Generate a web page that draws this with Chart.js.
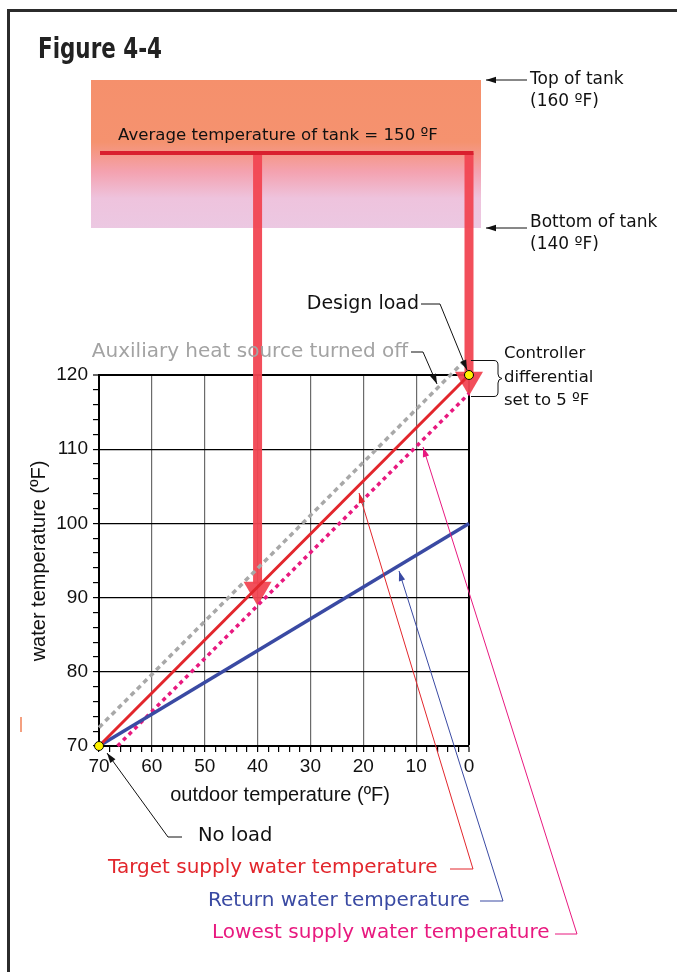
<!DOCTYPE html>
<html>
<head>
<meta charset="utf-8">
<script src="https://cdn.jsdelivr.net/npm/chart.js@4.4.1/dist/chart.umd.min.js"></script>
<style>
  html, body { margin: 0; padding: 0; background: #fff; }
  canvas { display: block; }
</style>
</head>
<body>
<canvas id="fig" width="677" height="972"></canvas>
<script>
// outdoor temperature (x) and water temperature (y) end points of each line
const targetX = [70, 0];
const targetY = [70, 120];
const returnX = [70, 0];
const returnY = [70, 100];
const lowestX = [66.5, 0];
const lowestY = [70, 117.5];
const auxX = [70, 1];
const auxY = [72.5, 121.8];
const loadX = [70, 0];
const loadY = [70, 120];

// thick arrows coming down from the tank
const tankArrowX = [40, 0];
const tankArrowTipY = [88.9, 117.2];

const xTickLabels = [70, 60, 50, 40, 30, 20, 10, 0];
const yTickLabels = [70, 80, 90, 100, 110, 120];

const pts = (xs, ys) => xs.map((x, i) => ({ x: x, y: ys[i] }));

const SANS = '"DejaVu Sans", sans-serif';
const HELV = '"Liberation Sans", Arial, sans-serif';

function text(ctx, str, x, y, size, color, align, family) {
  ctx.font = size + "px " + (family || SANS);
  ctx.fillStyle = color;
  ctx.textAlign = align || "left";
  ctx.textBaseline = "middle";
  ctx.fillText(str, x, y);
}

function leader(ctx, path, color, head) {
  ctx.strokeStyle = color;
  ctx.fillStyle = color;
  ctx.lineWidth = 1;
  ctx.beginPath();
  ctx.moveTo(path[0][0], path[0][1]);
  for (let i = 1; i < path.length; i++) ctx.lineTo(path[i][0], path[i][1]);
  ctx.stroke();
  if (head) {
    const [tx, ty] = path[path.length - 1];
    const [fx, fy] = path[path.length - 2];
    const a = Math.atan2(ty - fy, tx - fx);
    const len = 10, w = 3.2;
    ctx.beginPath();
    ctx.moveTo(tx, ty);
    ctx.lineTo(tx - len * Math.cos(a) + w * Math.sin(a), ty - len * Math.sin(a) - w * Math.cos(a));
    ctx.lineTo(tx - len * Math.cos(a) - w * Math.sin(a), ty - len * Math.sin(a) + w * Math.cos(a));
    ctx.closePath();
    ctx.fill();
  }
}

const tankPlugin = {
  id: "tank",
  beforeDatasetsDraw(chart) {
    const { ctx } = chart;
    const xs = chart.scales.x, ys = chart.scales.y;
    ctx.save();

    // tank
    const g = ctx.createLinearGradient(0, 80, 0, 228);
    g.addColorStop(0, "#f5906c");
    g.addColorStop(0.42, "#f5926f");
    g.addColorStop(0.62, "#f4a2b0");
    g.addColorStop(0.8, "#eec3dd");
    g.addColorStop(1, "#ecc8e2");
    ctx.fillStyle = g;
    ctx.fillRect(91, 80, 390, 148);

    // thick arrows
    ctx.fillStyle = "rgba(241, 70, 82, 0.95)";
    tankArrowX.forEach((v, i) => {
      const x = xs.getPixelForValue(v);
      const tip = ys.getPixelForValue(tankArrowTipY[i]);
      ctx.fillRect(x - 4.5, 153, 9, tip - 22 - 153);
      ctx.beginPath();
      ctx.moveTo(x - 14, tip - 24);
      ctx.lineTo(x + 14, tip - 24);
      ctx.lineTo(x, tip);
      ctx.closePath();
      ctx.fill();
    });

    // average temperature line
    ctx.strokeStyle = "#d9202e";
    ctx.lineWidth = 4;
    ctx.beginPath();
    ctx.moveTo(xs.getPixelForValue(70) + 1, 153);
    ctx.lineTo(xs.getPixelForValue(0) + 4.5, 153);
    ctx.stroke();
    ctx.restore();
  },
  afterDraw(chart) {
    const { ctx } = chart;
    const xs = chart.scales.x, ys = chart.scales.y;
    ctx.save();

    // frame
    ctx.strokeStyle = "#2b2b2b";
    ctx.lineWidth = 3;
    ctx.beginPath();
    ctx.moveTo(8.5, 972);
    ctx.lineTo(8.5, 10.5);
    ctx.lineTo(677, 10.5);
    ctx.stroke();

    // stray mark on the left
    ctx.strokeStyle = "#f4a080";
    ctx.lineWidth = 2;
    ctx.beginPath();
    ctx.moveTo(21, 717);
    ctx.lineTo(21, 732);
    ctx.stroke();

    // heavy condensed title
    ctx.save();
    ctx.font = 'bold 28px "DejaVu Sans", sans-serif';
    ctx.fillStyle = "#222";
    ctx.textAlign = "left";
    ctx.textBaseline = "alphabetic";
    const tw = ctx.measureText("Figure 4-4").width;
    ctx.translate(38, 58);
    ctx.scale(124 / tw, 1);
    ctx.fillText("Figure 4-4", 0, 0);
    ctx.restore();

    text(ctx, "Average temperature of tank = 150 \u00baF", 118, 136, 16.6, "#111");

    text(ctx, "Top of tank", 530, 80, 17, "#111");
    text(ctx, "(160 \u00baF)", 530, 102, 17, "#111");
    text(ctx, "Bottom of tank", 530, 223, 17, "#111");
    text(ctx, "(140 \u00baF)", 530, 245, 17, "#111");
    leader(ctx, [[527, 80], [486, 80]], "#111", true);
    leader(ctx, [[527, 228], [486, 228]], "#111", true);

    const dX = xs.getPixelForValue(0), dY = ys.getPixelForValue(120);
    text(ctx, "Design load", 419, 304, 19, "#111", "right");
    leader(ctx, [[421, 304], [440, 304], [dX - 2, dY - 5]], "#111", true);

    text(ctx, "Auxiliary heat source turned off", 408, 352, 20, "#a3a3a3", "right");
    leader(ctx, [[411, 352], [423, 352], [437, 384]], "#111", true);

    // controller differential brace
    ctx.strokeStyle = "#111";
    ctx.lineWidth = 1;
    ctx.beginPath();
    ctx.moveTo(471, 360.5);
    ctx.lineTo(494, 360.5);
    ctx.quadraticCurveTo(498, 360.5, 498, 365);
    ctx.lineTo(498, 374);
    ctx.quadraticCurveTo(498, 378, 502, 378.5);
    ctx.quadraticCurveTo(498, 379, 498, 383);
    ctx.lineTo(498, 392);
    ctx.quadraticCurveTo(498, 396.5, 494, 396.5);
    ctx.lineTo(471, 396.5);
    ctx.stroke();
    text(ctx, "Controller", 504, 354, 16.5, "#111");
    text(ctx, "differential", 504, 378, 16.5, "#111");
    text(ctx, "set to 5 \u00baF", 504, 401, 16.5, "#111");

    // axis titles
    text(ctx, "outdoor temperature (\u00baF)", 280, 795, 20, "#111", "center", HELV);
    ctx.save();
    ctx.translate(39, 561);
    ctx.rotate(-Math.PI / 2);
    text(ctx, "water temperature (\u00baF)", 0, 0, 20, "#111", "center", HELV);
    ctx.restore();

    const nX = xs.getPixelForValue(70), nY = ys.getPixelForValue(70);
    leader(ctx, [[182, 837], [168, 837], [nX + 8, nY + 7]], "#111", true);
    text(ctx, "No load", 198, 836, 19.5, "#111");

    text(ctx, "Target supply water temperature", 108, 868, 20, "#e2262c");
    leader(ctx, [[450, 869], [473, 869], [359, 493]], "#e2262c", true);
    text(ctx, "Return water temperature", 208, 901, 20, "#3a4aa3");
    leader(ctx, [[480, 901], [503, 901], [399, 571]], "#3a4aa3", true);
    text(ctx, "Lowest supply water temperature", 212, 933, 20, "#e8197f");
    leader(ctx, [[555, 934], [577, 934], [423, 447]], "#e8197f", true);

    ctx.restore();
  }
};

const line = (data, color, width, dash, order) => ({
  data: data,
  borderColor: color,
  borderWidth: width,
  borderDash: dash,
  pointRadius: 0,
  fill: false,
  clip: false,
  order: order
});

new Chart(document.getElementById("fig").getContext("2d"), {
  type: "line",
  data: {
    datasets: [
      line(pts(auxX, auxY), "#a8a8a8", 3.5, [5, 4], 5),
      line(pts(lowestX, lowestY), "#e8197f", 3.5, [4, 4], 4),
      line(pts(returnX, returnY), "#3a4aa3", 3.5, [], 3),
      line(pts(targetX, targetY), "#e2262c", 3, [], 2),
      {
        data: pts(loadX, loadY),
        showLine: false,
        pointRadius: 4.5,
        pointBackgroundColor: "#fff200",
        pointBorderColor: "#000",
        pointBorderWidth: 1,
        clip: false,
        order: 1
      }
    ]
  },
  options: {
    responsive: false,
    animation: false,
    layout: { padding: { left: 0, top: 375, right: 208, bottom: 0 } },
    plugins: { legend: { display: false }, tooltip: { enabled: false } },
    scales: {
      x: {
        type: "linear",
        reverse: true,
        min: 0,
        max: 70,
        afterFit: (s) => { s.height = 226; },
        border: { color: "#000", width: 2 },
        grid: {
          color: (c) => xTickLabels.includes(c.tick.value) ? (c.tick.value === 0 ? "#000" : "#6b6b6b") : "rgba(0,0,0,0)",
          lineWidth: (c) => c.tick.value === 0 ? 2 : 1.2,
          tickColor: "#000",
          tickWidth: 1.2,
          tickLength: 6
        },
        ticks: {
          stepSize: 2,
          autoSkip: false,
          maxRotation: 0,
          padding: 3,
          color: "#111",
          font: { family: HELV, size: 19 },
          callback: (v) => xTickLabels.includes(v) ? String(v) : ""
        }
      },
      y: {
        min: 70,
        max: 120,
        afterFit: (s) => { s.width = 99; },
        border: { color: "#000", width: 2 },
        grid: {
          color: (c) => yTickLabels.includes(c.tick.value) ? "#000" : "rgba(0,0,0,0)",
          lineWidth: (c) => c.tick.value === 120 ? 2 : 1.2,
          tickColor: "#000",
          tickWidth: 1.2,
          tickLength: 6
        },
        ticks: {
          stepSize: 2,
          autoSkip: false,
          padding: 5,
          color: "#111",
          font: { family: HELV, size: 19 },
          callback: (v) => yTickLabels.includes(v) ? String(v) : ""
        }
      }
    }
  },
  plugins: [tankPlugin]
});
</script>
</body>
</html>
